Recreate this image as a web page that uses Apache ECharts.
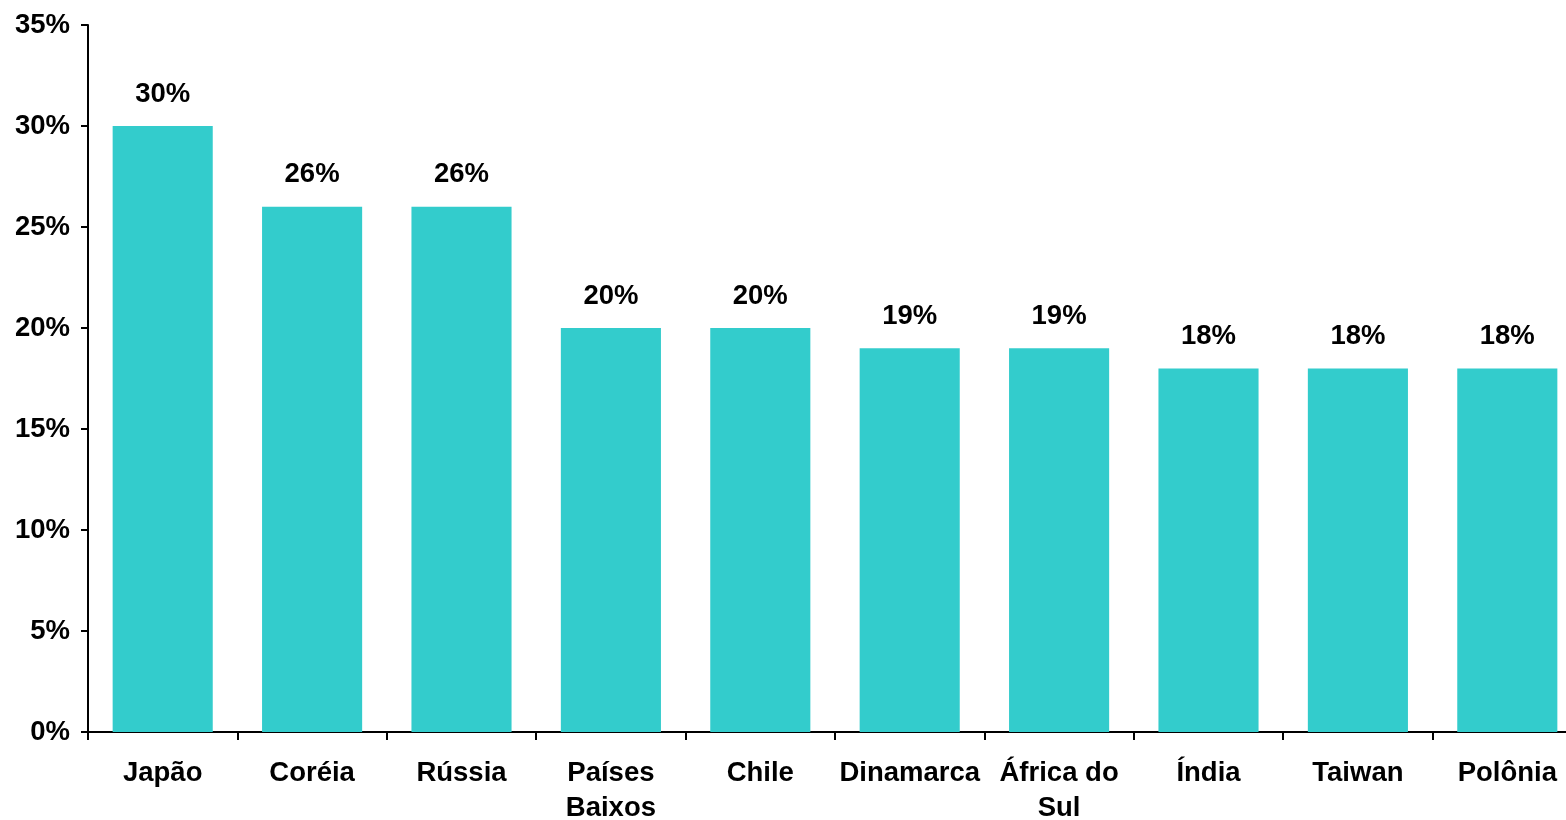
<!DOCTYPE html>
<html>
<head>
<meta charset="utf-8">
<script src="https://cdn.jsdelivr.net/npm/echarts@6/dist/echarts.min.js"></script>
<style>
  html, body { margin: 0; padding: 0; background: #ffffff; }
  #chart { width: 1566px; height: 820px; }
</style>
</head>
<body>
<div id="chart"></div>
<script>
// Countries and their shares (%)
const countries = ['Japão', 'Coréia', 'Rússia', 'Países\nBaixos', 'Chile', 'Dinamarca', 'África do\nSul', 'Índia', 'Taiwan', 'Polônia'];
const shares = [30, 26, 26, 20, 20, 19, 19, 18, 18, 18];
const yTicks = [0, 5, 10, 15, 20, 25, 30, 35];

const FONT = '"Liberation Sans", Arial, sans-serif';
const chart = echarts.init(document.getElementById('chart'), null, { renderer: 'canvas' });

chart.setOption({
  backgroundColor: '#ffffff',
  animation: false,
  grid: {
    left: 88, top: 25, width: 1494, height: 707,
    containLabel: false, outerBoundsMode: 'none'
  },
  xAxis: {
    type: 'category',
    data: countries,
    axisLine: { show: true, lineStyle: { color: '#000', width: 2 } },
    axisTick: { show: true, alignWithLabel: false, length: 8, lineStyle: { color: '#000', width: 2 } },
    axisLabel: {
      interval: 0, margin: 24, color: '#000', fontFamily: FONT, fontWeight: 'bold',
      fontSize: 27.5, lineHeight: 35
    }
  },
  yAxis: {
    type: 'value',
    min: yTicks[0],
    max: yTicks[yTicks.length - 1],
    interval: yTicks[1] - yTicks[0],
    splitLine: { show: false },
    axisLine: { show: true, lineStyle: { color: '#000', width: 2 } },
    axisTick: { show: true, inside: false, length: 7, lineStyle: { color: '#000', width: 2 } },
    axisLabel: {
      margin: 18, color: '#000', fontFamily: FONT, fontWeight: 'bold', fontSize: 27.5,
      padding: [4, 0, 0, 0],
      formatter: v => v + '%'
    }
  },
  series: [{
    type: 'bar',
    data: shares,
    barCategoryGap: '33%',
    itemStyle: { color: '#33CCCC' },
    label: {
      show: true, position: 'top', distance: 18, color: '#000',
      fontFamily: FONT, fontWeight: 'bold', fontSize: 27.5,
      formatter: p => p.value + '%'
    }
  }]
});
</script>
</body>
</html>
